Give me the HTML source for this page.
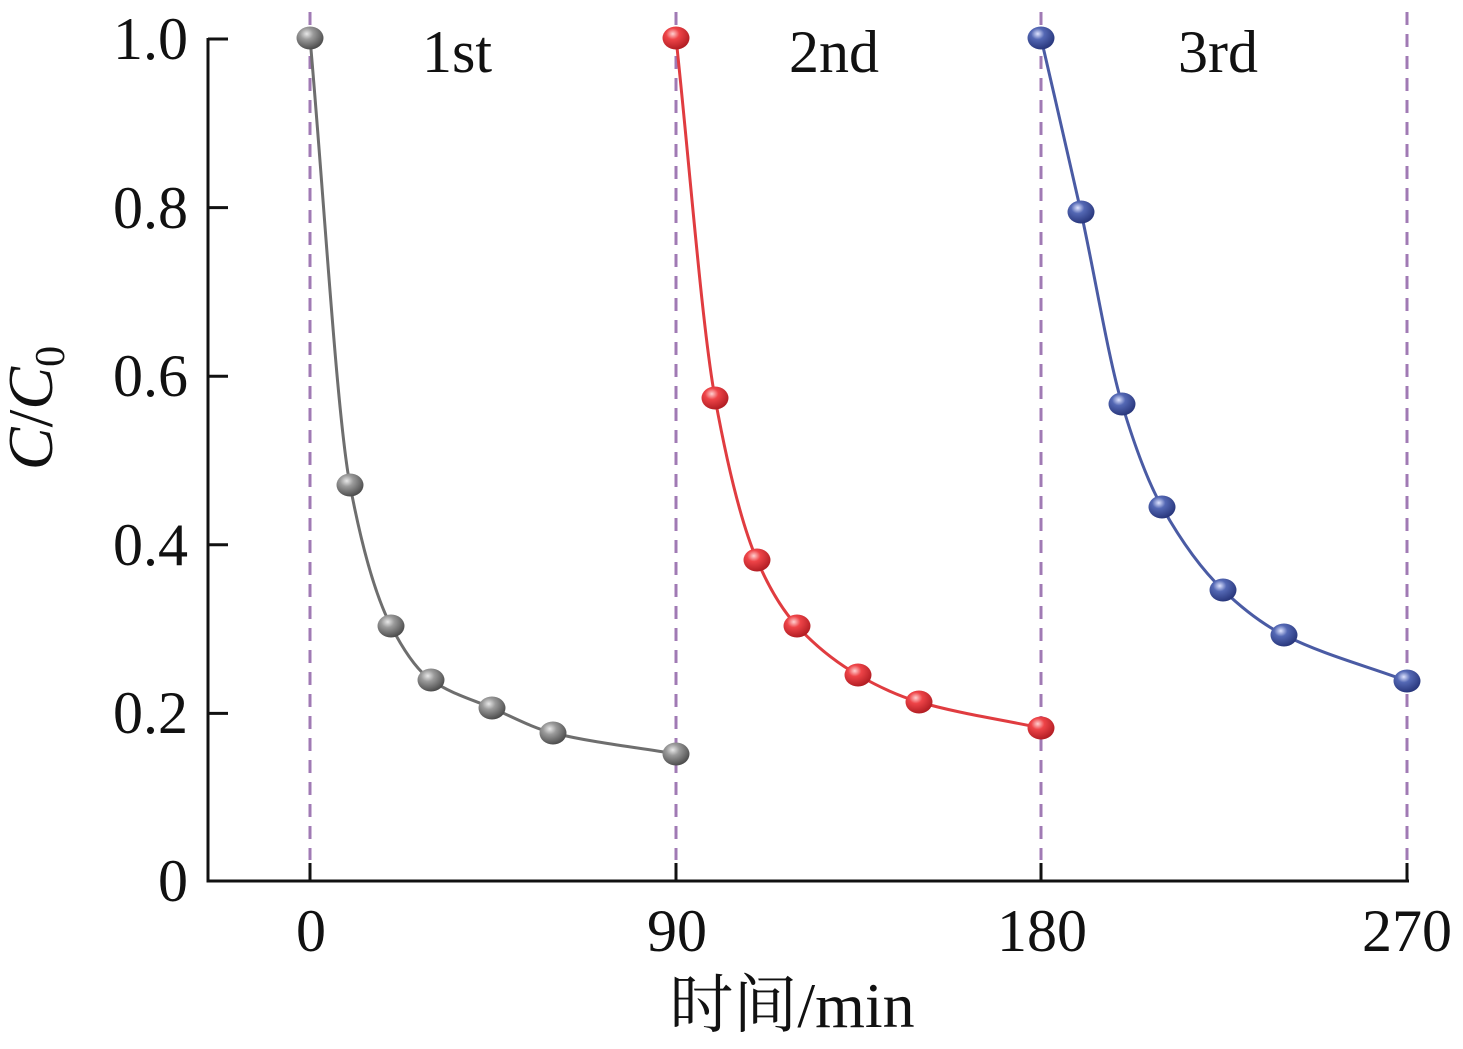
<!DOCTYPE html>
<html><head><meta charset="utf-8"><style>
html,body{margin:0;padding:0;background:#fff}
svg{display:block}
text{font-family:"Liberation Serif","Noto Serif CJK SC",serif;fill:#111}
</style></head><body>
<svg id="s" width="1463" height="1049" viewBox="0 0 1463 1049" xmlns="http://www.w3.org/2000/svg">
<defs>
<radialGradient id="gg" cx="0.38" cy="0.32" r="0.7"><stop offset="0" stop-color="#e8e8e8"/><stop offset="0.35" stop-color="#9a9a9a"/><stop offset="1" stop-color="#4a4a4a"/></radialGradient>
<radialGradient id="gr" cx="0.38" cy="0.32" r="0.7"><stop offset="0" stop-color="#ffd0d0"/><stop offset="0.35" stop-color="#ee4448"/><stop offset="1" stop-color="#b01c22"/></radialGradient>
<radialGradient id="gb" cx="0.38" cy="0.32" r="0.7"><stop offset="0" stop-color="#dfe4ff"/><stop offset="0.35" stop-color="#5468b4"/><stop offset="1" stop-color="#27357a"/></radialGradient>
</defs>
<g stroke="#a07ab4" stroke-width="3" stroke-dasharray="13,9">
<line x1="310" y1="12" x2="310" y2="860"/>
<line x1="676" y1="12" x2="676" y2="860"/>
<line x1="1041" y1="12" x2="1041" y2="860"/>
<line x1="1407" y1="12" x2="1407" y2="860"/>
</g>
<g stroke="#111" stroke-width="3" fill="none">
<polyline points="208,38 208,881 1409,881"/>
<line x1="208" y1="39" x2="228" y2="39"/>
<line x1="208" y1="207.6" x2="228" y2="207.6"/>
<line x1="208" y1="376.2" x2="228" y2="376.2"/>
<line x1="208" y1="544.8" x2="228" y2="544.8"/>
<line x1="208" y1="713.4" x2="228" y2="713.4"/>
<line x1="310" y1="881" x2="310" y2="863"/>
<line x1="676" y1="881" x2="676" y2="863"/>
<line x1="1041" y1="881" x2="1041" y2="863"/>
<line x1="1407" y1="881" x2="1407" y2="863"/>
</g>
<g font-size="60" text-anchor="end">
<text x="188" y="59">1.0</text>
<text x="188" y="228">0.8</text>
<text x="188" y="396">0.6</text>
<text x="188" y="565">0.4</text>
<text x="188" y="733">0.2</text>
<text x="188" y="901">0</text>
</g>
<g font-size="60" text-anchor="middle">
<text x="311" y="951">0</text>
<text x="677" y="951">90</text>
<text x="1042" y="951">180</text>
<text x="1407" y="951">270</text>
<text x="457" y="72">1st</text>
<text x="834" y="72">2nd</text>
<text x="1218" y="72">3rd</text>
<text x="792" y="1027" font-size="64">时间/min</text>
</g>
<text transform="translate(52,408) rotate(-90)" font-size="64" text-anchor="middle"><tspan font-style="italic">C</tspan>/<tspan font-style="italic">C</tspan><tspan font-size="42" dy="12">0</tspan></text>
<g id="curves"></g>
</svg>
<script>
var sets=[
 {c:"#6e6e6e",g:"gg",p:[[310,38],[350,485],[391,626],[431,680],[492,708],[553,733],[676,754]]},
 {c:"#e03c40",g:"gr",p:[[676,38],[715,398],[757,560],[797,626],[858,675],[919,702],[1041,728]]},
 {c:"#4a5ba4",g:"gb",p:[[1041,38],[1081,212],[1122,404],[1162,507],[1223,590],[1284,635],[1407,681]]}
];
var ns="http://www.w3.org/2000/svg",g=document.getElementById("curves");
sets.forEach(function(s){
 var p=s.p,n=p.length,d="M"+p[0][0]+","+p[0][1];
 var dx=[],m=[],t=[];
 for(var i=0;i<n-1;i++){dx.push(p[i+1][0]-p[i][0]);m.push((p[i+1][1]-p[i][1])/dx[i]);}
 t[0]=m[0];t[n-1]=m[n-2];
 for(i=1;i<n-1;i++){t[i]=(m[i-1]*m[i]<=0)?0:2/(1/m[i-1]+1/m[i]);}
 for(i=0;i<n-1;i++){var h=dx[i]/3;
  d+=" C"+(p[i][0]+h)+","+(p[i][1]+t[i]*h)+" "+(p[i+1][0]-h)+","+(p[i+1][1]-t[i+1]*h)+" "+p[i+1][0]+","+p[i+1][1];}
 var path=document.createElementNS(ns,"path");
 path.setAttribute("d",d);path.setAttribute("fill","none");path.setAttribute("stroke",s.c);path.setAttribute("stroke-width","3");
 g.appendChild(path);
 p.forEach(function(q){var e=document.createElementNS(ns,"ellipse");
  e.setAttribute("cx",q[0]);e.setAttribute("cy",q[1]);e.setAttribute("rx",13.5);e.setAttribute("ry",11.5);
  e.setAttribute("fill","url(#"+s.g+")");g.appendChild(e);});
});
</script>
</body></html>
